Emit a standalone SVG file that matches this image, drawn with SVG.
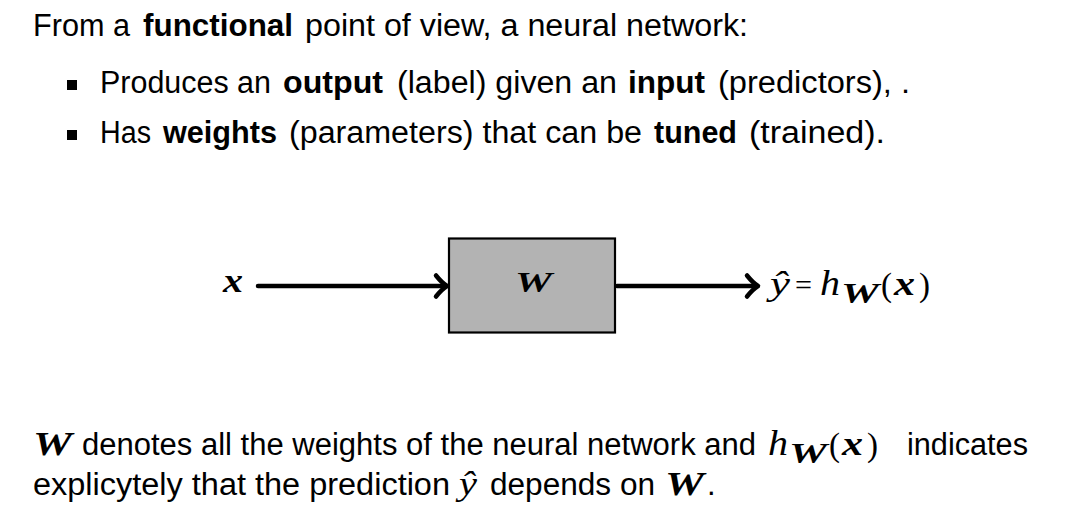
<svg xmlns="http://www.w3.org/2000/svg" width="1065" height="531" viewBox="0 0 1065 531">
<style>
.t{font-family:"Liberation Sans",Arial,sans-serif;font-size:31px;fill:#000}
.b{font-weight:bold}
.m{font-family:"Liberation Serif","Times New Roman",serif;font-style:italic;fill:#000}
.mb{font-family:"Liberation Serif","Times New Roman",serif;font-style:italic;font-weight:bold;fill:#000}
.mr{font-family:"Liberation Serif","Times New Roman",serif;fill:#000}
.conn{stroke:#000;stroke-width:4.5;fill:none;stroke-linecap:round;stroke-linejoin:round}
</style>
<rect width="1065" height="531" fill="#fff"/>
<g id="intro">
<text class="t" x="33" y="36" textLength="97" lengthAdjust="spacingAndGlyphs">From a</text>
<text class="t b" x="143" y="36" textLength="150" lengthAdjust="spacingAndGlyphs">functional</text>
<text class="t" x="305" y="36" textLength="443" lengthAdjust="spacingAndGlyphs">point of view, a neural network:</text>
<rect x="67" y="80" width="10" height="10" fill="#000"/>
<text class="t" x="100" y="93" textLength="171" lengthAdjust="spacingAndGlyphs">Produces an</text>
<text class="t b" x="283" y="93" textLength="100" lengthAdjust="spacingAndGlyphs">output</text>
<text class="t" x="397" y="93" textLength="220" lengthAdjust="spacingAndGlyphs">(label) given an</text>
<text class="t b" x="628" y="93" textLength="77" lengthAdjust="spacingAndGlyphs">input</text>
<text class="t" x="718" y="93" textLength="192" lengthAdjust="spacingAndGlyphs">(predictors), .</text>
<rect x="67" y="130" width="10" height="10" fill="#000"/>
<text class="t" x="100" y="143" textLength="51" lengthAdjust="spacingAndGlyphs">Has</text>
<text class="t b" x="163" y="143" textLength="114" lengthAdjust="spacingAndGlyphs">weights</text>
<text class="t" x="289" y="143" textLength="353" lengthAdjust="spacingAndGlyphs">(parameters) that can be</text>
<text class="t b" x="654" y="143" textLength="83" lengthAdjust="spacingAndGlyphs">tuned</text>
<text class="t" x="749" y="143" textLength="136" lengthAdjust="spacingAndGlyphs">(trained).</text>
</g>
<g id="input-x">
<text class="mb" x="223" y="292" font-size="33" textLength="20" lengthAdjust="spacingAndGlyphs">x</text>
</g>
<g id="node-W">
<rect x="449" y="238.5" width="166" height="94" fill="#b3b3b3" stroke="#000" stroke-width="2.2"/>
<text class="mb" x="515" y="292" font-size="29" textLength="37" lengthAdjust="spacingAndGlyphs">W</text>
</g>
<g id="output-y">
<text class="m" x="770" y="295" font-size="33" textLength="20" lengthAdjust="spacingAndGlyphs">ŷ</text>
<text class="mr" x="795" y="295" font-size="30" textLength="17" lengthAdjust="spacingAndGlyphs">=</text>
<text class="m" x="820" y="295" font-size="36" textLength="20" lengthAdjust="spacingAndGlyphs">h</text>
<text class="mb" x="841" y="303" font-size="29" textLength="38" lengthAdjust="spacingAndGlyphs">W</text>
<text class="mr" x="881" y="296" font-size="34" textLength="11" lengthAdjust="spacingAndGlyphs">(</text>
<text class="mb" x="894" y="295" font-size="33" textLength="21" lengthAdjust="spacingAndGlyphs">x</text>
<text class="mr" x="919" y="296" font-size="34" textLength="11" lengthAdjust="spacingAndGlyphs">)</text>
</g>
<g id="connectors">
<path class="conn" d="M258,286 H446"/>
<path class="conn" d="M436,275.5 Q442,283 447,286 Q442,289 436,296.5"/>
<path class="conn" d="M617,286 H757"/>
<path class="conn" d="M747,275.5 Q753,283 758,286 Q753,289 747,296.5"/>
</g>
<g id="footer">
<text class="mb" x="33" y="455" font-size="33" textLength="39" lengthAdjust="spacingAndGlyphs">W</text>
<text class="t" x="82" y="455" textLength="674" lengthAdjust="spacingAndGlyphs">denotes all the weights of the neural network and</text>
<text class="m" x="768" y="455" font-size="36" textLength="20" lengthAdjust="spacingAndGlyphs">h</text>
<text class="mb" x="789" y="463" font-size="29" textLength="38" lengthAdjust="spacingAndGlyphs">W</text>
<text class="mr" x="829" y="456" font-size="34" textLength="11" lengthAdjust="spacingAndGlyphs">(</text>
<text class="mb" x="842" y="455" font-size="33" textLength="21" lengthAdjust="spacingAndGlyphs">x</text>
<text class="mr" x="867" y="456" font-size="34" textLength="11" lengthAdjust="spacingAndGlyphs">)</text>
<text class="t" x="907" y="455" textLength="121" lengthAdjust="spacingAndGlyphs">indicates</text>
<text class="t" x="33" y="495" textLength="417" lengthAdjust="spacingAndGlyphs">explicytely that the prediction</text>
<text class="m" x="459" y="495" font-size="33" textLength="18" lengthAdjust="spacingAndGlyphs">ŷ</text>
<text class="t" x="490" y="495" textLength="165" lengthAdjust="spacingAndGlyphs">depends on</text>
<text class="mb" x="665" y="495" font-size="33" textLength="39" lengthAdjust="spacingAndGlyphs">W</text>
<text class="t" x="707" y="495">.</text>
</g>
</svg>
